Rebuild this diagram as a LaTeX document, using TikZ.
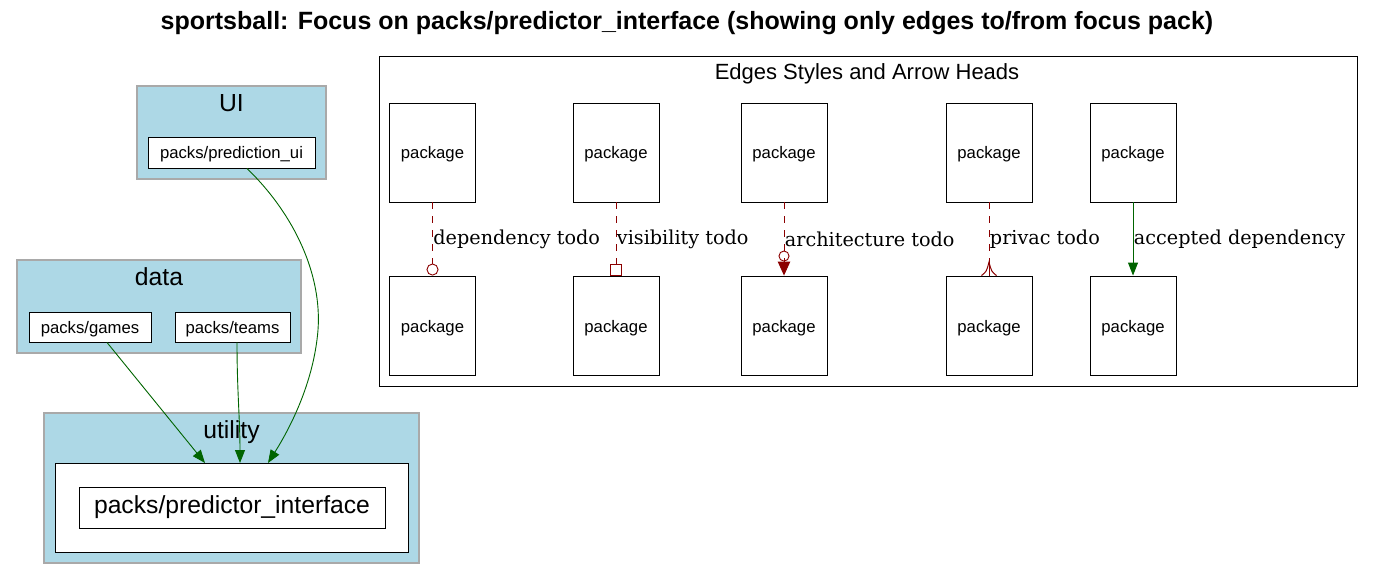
\documentclass[tikz,border=0pt]{standalone}
\usepackage{fontspec}
\setmainfont{Liberation Sans}
\newfontfamily\lblfont{DejaVu Serif}
\usetikzlibrary{arrows.meta}
\definecolor{clfill}{HTML}{ADD8E6}
\definecolor{clborder}{HTML}{A9A9A9}
\definecolor{dgreen}{HTML}{006400}
\definecolor{dred}{HTML}{8B0000}
\begin{document}
\begin{tikzpicture}[x=1pt,y=-1pt,
  cluster/.style={draw=clborder, fill=clfill, line width=1.1pt, inner sep=0pt},
  cltitle/.style={inner sep=0pt, font=\fontsize{24.7}{28}\selectfont},
  pkg/.style={draw=black, fill=white, line width=0.9pt, inner sep=0pt, text height=13pt, text depth=0pt, font=\fontsize{16.7}{20}\selectfont},
  bigpkg/.style={draw=black, fill=white, line width=0.9pt, inner sep=0pt, font=\fontsize{24.7}{28}\selectfont},
  legpkg/.style={draw=black, line width=0.9pt, inner sep=0pt, text height=13pt, text depth=0pt, minimum width=86pt, minimum height=99pt, font=\fontsize{16.7}{20}\selectfont},
  dep/.style={draw=dgreen, line width=0.9pt, -{Triangle[length=13pt,width=10pt]}},
  todo/.style={draw=dred, line width=0.9pt, dash pattern=on 7pt off 7pt},
  elabel/.style={pos=0.5, anchor=west, inner sep=0.5pt, text=black, font=\lblfont\fontsize{19.2}{22}\selectfont}
]
\useasboundingbox (0,0) rectangle (1375,580);
% title
\node[inner sep=0pt, font=\bfseries\fontsize{25}{29}\selectfont] (title) at (687,23.5) {sportsball: Focus on packs/predictor\_interface (showing only edges to/from focus pack)};

% clusters
\node[cluster, minimum width=189pt, minimum height=93pt] (cui) at (231.5,132.5) {};
\node[cltitle] (cuit) at (231.5,103.5) {UI};
\node[pkg, minimum width=167pt, minimum height=31pt] (pui) at (231.5,152.5) {packs/prediction\_ui};

\node[cluster, minimum width=284pt, minimum height=93pt] (cdata) at (159,306.5) {};
\node[cltitle] (cdatat) at (159,277) {data};
\node[pkg, minimum width=122pt, minimum height=30pt] (pg) at (90,327) {packs/games};
\node[pkg, minimum width=115pt, minimum height=30pt] (pt) at (232.5,327) {packs/teams};

\node[cluster, minimum width=375pt, minimum height=150pt] (cutil) at (231.5,488) {};
\node[cltitle] (cutilt) at (231.5,432) {utility};
\node[draw=black, fill=white, line width=0.9pt, minimum width=353pt, minimum height=89pt, inner sep=0pt] (pibox) at (231.5,507.5) {};
\node[bigpkg, minimum width=306pt, minimum height=41pt] (pi) at (232,507.5) {packs/predictor\_interface};

% edges
\coordinate (eg) at (205,463);
\coordinate (et) at (240,463);
\coordinate (eu) at (268,463);
\draw[dep] ([xshift=17pt]pg.south) -- (eg);
\draw[dep] ([xshift=4.5pt]pt.south) .. controls (237,390) and (240,420) .. (et);
\draw[dep] ([xshift=15.5pt]pui.south) .. controls (295,215) and (322,275) .. (318,330) .. controls (314,380) and (292,425) .. (eu);

% legend
\node[draw=black, line width=0.9pt, minimum width=978pt, minimum height=330pt, inner sep=0pt] (legend) at (868,221) {};
\node[inner sep=0pt, font=\fontsize{22}{26}\selectfont] (legendt) at (867,73.5) {Edges Styles and Arrow Heads};

\foreach \i/\x in {1/432.5,2/616,3/784,4/989,5/1133}{
  \node[legpkg] (t\i) at (\x,152.5) {package};
  \node[legpkg] (b\i) at (\x,325.5) {package};
}
\draw[todo, -{Circle[open, length=12pt, width=12pt]}] (t1) -- (b1) node[elabel] {dependency todo};
\draw[todo, -{Square[open, length=11.5pt, width=11.5pt]}] (t2) -- (b2) node[elabel] {visibility todo};
\draw[todo, -{Circle[open, length=11pt, width=11pt] Triangle[length=14pt, width=12.5pt]}] (t3) -- (b3) node[elabel] {architecture todo};
\draw[todo] (t4) -- (b4) node[elabel] {privac todo};
\draw[dred, line width=0.9pt] ([yshift=16pt]b4.north) -- (b4.north);
\draw[dred, line width=1pt] ([xshift=-7.5pt]b4.north) .. controls ([xshift=-2.5pt,yshift=4pt]b4.north) .. ([yshift=13.5pt]b4.north)
  .. controls ([xshift=2.5pt,yshift=4pt]b4.north) .. ([xshift=7.5pt]b4.north);
\draw[dep] (t5) -- (b5) node[elabel] {accepted dependency};
\end{tikzpicture}
\end{document}
